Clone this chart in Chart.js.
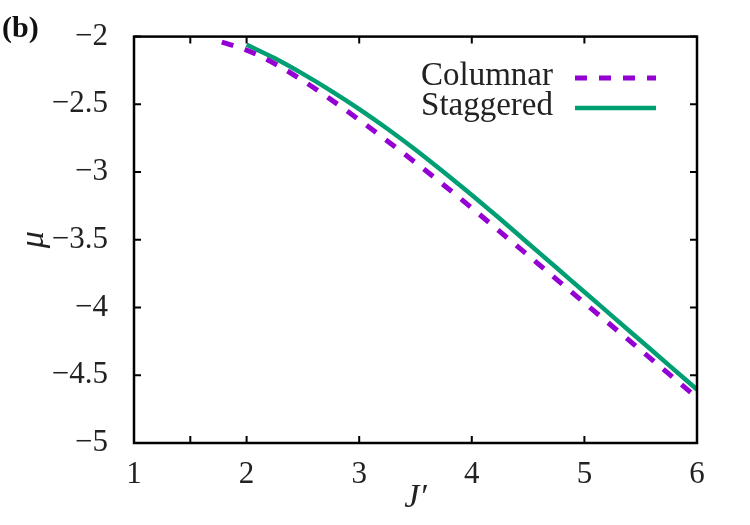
<!DOCTYPE html>
<html>
<head>
<meta charset="utf-8">
<script src="https://cdn.jsdelivr.net/npm/chart.js@4/dist/chart.umd.min.js"></script>
<style>
  html, body { margin: 0; padding: 0; background: #fff; }
  #wrap { width: 750px; height: 525px; position: relative; }
</style>
</head>
<body>
<div id="wrap"><canvas id="chart"></canvas></div>
<script>
// data
let columnarJ  = [1.78, 2, 2.25, 2.5, 2.75, 3, 3.25, 3.5, 3.75, 4, 4.25, 4.5, 4.75, 5, 5.25, 5.5, 5.75, 6];
let columnarMu = [-2.04, -2.10, -2.20, -2.325, -2.465, -2.615, -2.77, -2.93, -3.095, -3.265, -3.44, -3.615, -3.79, -3.965, -4.14, -4.315, -4.49, -4.665];

let staggeredJ  = [2, 2.25, 2.5, 2.75, 3, 3.25, 3.5, 3.75, 4, 4.25, 4.5, 4.75, 5, 5.25, 5.5, 5.75, 6];
let staggeredMu = [-2.06, -2.16, -2.275, -2.40, -2.535, -2.68, -2.835, -3.00, -3.17, -3.345, -3.525, -3.705, -3.885, -4.065, -4.245, -4.425, -4.605];

let xTickValues = [1, 1.5, 2, 3, 4, 5, 6];
let xTickLabels = ['1', '', '2', '3', '4', '5', '6'];
let yTickValues = [-5, -4.5, -4, -3.5, -3, -2.5, -2];

const serif = "'Liberation Serif', 'DejaVu Serif', serif";

function toPoints(xs, ys){
  return xs.map((x, i) => ({x: x, y: ys[i]}));
}

function minusSign(v){
  return String(v).replace('-', '\u2212');
}

// frame, inward ticks on all sides, key and panel label
const decorations = {
  id: 'decorations',
  afterDatasetsDraw(chart){
    const ctx = chart.ctx;
    const a = chart.chartArea;
    const xs = chart.scales.x, ys = chart.scales.y;
    const tick = 7;
    ctx.save();
    ctx.strokeStyle = '#000';
    ctx.lineWidth = 2;
    ctx.beginPath();
    xTickValues.forEach(v => {
      const px = xs.getPixelForValue(v);
      ctx.moveTo(px, a.bottom); ctx.lineTo(px, a.bottom - tick);
      ctx.moveTo(px, a.top); ctx.lineTo(px, a.top + tick);
    });
    yTickValues.forEach(v => {
      const py = ys.getPixelForValue(v);
      ctx.moveTo(a.left, py); ctx.lineTo(a.left + tick, py);
      ctx.moveTo(a.right, py); ctx.lineTo(a.right - tick, py);
    });
    ctx.stroke();
    ctx.lineWidth = 2.5;
    ctx.strokeRect(a.left, a.top, a.right - a.left, a.bottom - a.top);

    // key
    ctx.font = '33px ' + serif;
    ctx.fillStyle = '#222';
    ctx.textAlign = 'right';
    ctx.textBaseline = 'alphabetic';
    const rows = [85, 115];
    chart.data.datasets.forEach((ds, i) => {
      ctx.fillText(ds.label, 553, rows[i]);
      ctx.beginPath();
      ctx.strokeStyle = ds.borderColor;
      ctx.lineWidth = ds.borderWidth;
      ctx.lineCap = 'butt';
      ctx.setLineDash(ds.borderDash || []);
      ctx.moveTo(575, rows[i] - 7);
      ctx.lineTo(656, rows[i] - 7);
      ctx.stroke();
    });
    ctx.setLineDash([]);

    // panel label
    ctx.font = 'bold 30px ' + serif;
    ctx.fillStyle = '#111';
    ctx.textAlign = 'left';
    ctx.fillText('(b)', 2, 37);
    ctx.restore();
  }
};

new Chart(document.getElementById('chart'), {
  type: 'scatter',
  data: {
    datasets: [
      {
        label: 'Columnar',
        data: toPoints(columnarJ, columnarMu),
        showLine: true,
        borderColor: '#9400D3',
        borderWidth: 5,
        borderDash: [12, 12],
        borderCapStyle: 'butt',
        pointRadius: 0,
        cubicInterpolationMode: 'monotone'
      },
      {
        label: 'Staggered',
        data: toPoints(staggeredJ, staggeredMu),
        showLine: true,
        borderColor: '#009E73',
        borderWidth: 4.5,
        pointRadius: 0,
        cubicInterpolationMode: 'monotone'
      }
    ]
  },
  options: {
    responsive: true,
    maintainAspectRatio: false,
    animation: false,
    layout: { padding: { top: 35, right: 53, left: 0, bottom: 0 } },
    plugins: {
      legend: { display: false },
      tooltip: { enabled: false }
    },
    scales: {
      x: {
        type: 'linear',
        min: 1,
        max: 6,
        grid: { display: false },
        border: { display: false },
        afterBuildTicks: scale => { scale.ticks = xTickValues.map(v => ({value: v})); },
        afterFit: scale => { scale.height = 82; },
        ticks: {
          autoSkip: false,
          maxRotation: 0,
          padding: 5,
          color: '#222',
          font: { family: serif, size: 31 },
          callback: (v) => xTickLabels[xTickValues.indexOf(v)]
        },
        title: {
          display: true,
          text: 'J\u2032',
          color: '#222',
          font: { family: serif, size: 34, style: 'italic' },
          padding: { top: 0, bottom: 7 }
        }
      },
      y: {
        type: 'linear',
        min: -5,
        max: -2,
        grid: { display: false },
        border: { display: false },
        afterBuildTicks: scale => { scale.ticks = yTickValues.map(v => ({value: v})); },
        afterFit: scale => { scale.width = 134; },
        ticks: {
          autoSkip: false,
          padding: 18,
          color: '#222',
          font: { family: serif, size: 31 },
          callback: (v) => minusSign(v)
        },
        title: {
          display: true,
          text: '\u03bc',
          color: '#222',
          font: { family: serif, size: 34, style: 'italic' },
          padding: { top: 14, bottom: 0 }
        }
      }
    }
  },
  plugins: [decorations]
});
</script>
</body>
</html>
